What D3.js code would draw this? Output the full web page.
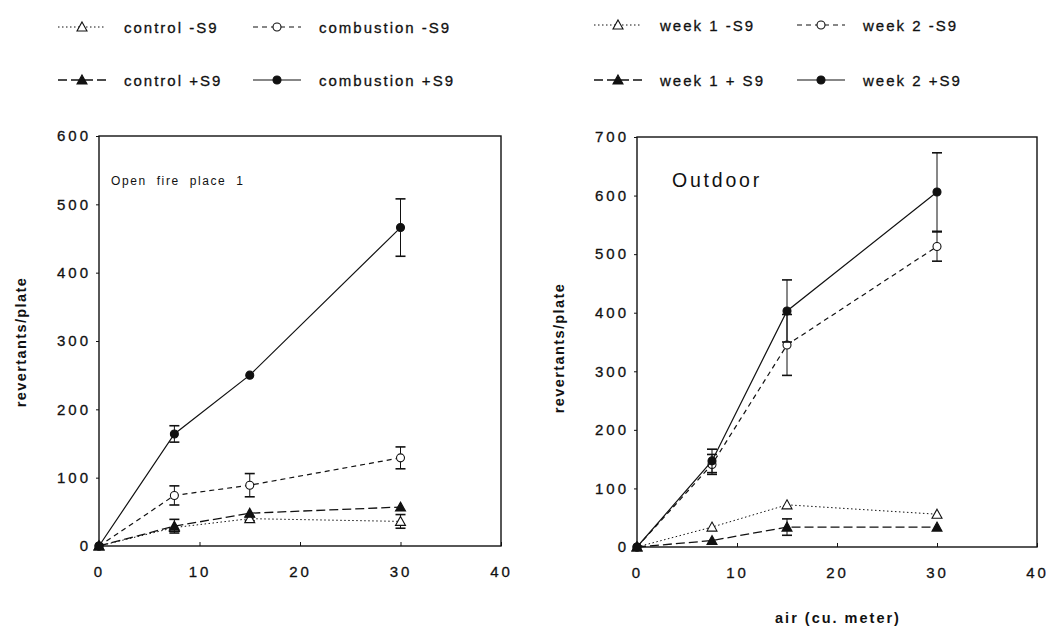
<!DOCTYPE html>
<html>
<head>
<meta charset="utf-8">
<script src="https://cdn.jsdelivr.net/npm/d3@7"></script>
<style>
  body { margin: 0; background: #fff; }
  svg { font-family: "Liberation Sans", Arial, sans-serif; }
</style>
</head>
<body>
<div id="chart"></div>
<script>
// air volume (cu. meter)
var doses = [0, 7.5, 15, 30];
var xTicks = [0, 10, 20, 30, 40];

// left panel: open fire place 1
var leftNames = ["control -S9", "combustion -S9", "control +S9", "combustion +S9"];
var controlMinus = [0, 27, 40, 36];
var controlMinusErr = [0, 0, 3, 10];
var combustionMinus = [0, 74, 89, 129];
var combustionMinusErr = [0, 14, 17, 16];
var controlPlus = [0, 29, 48, 57];
var controlPlusErr = [0, 10, 0, 0];
var combustionPlus = [0, 164, 250, 466];
var combustionPlusErr = [0, 12, 0, 42];
var leftYTicks = [0, 100, 200, 300, 400, 500, 600];

// right panel: outdoor
var rightNames = ["week 1 -S9", "week 2 -S9", "week 1 + S9", "week 2 +S9"];
var week1Minus = [0, 34, 72, 56];
var week1MinusErr = [0, 0, 0, 0];
var week2Minus = [0, 141, 345, 513];
var week2MinusErr = [0, 17, 52, 25];
var week1Plus = [0, 11, 34, 34];
var week1PlusErr = [0, 0, 14, 0];
var week2Plus = [0, 147, 403, 606];
var week2PlusErr = [0, 20, 53, 67];
var rightYTicks = [0, 100, 200, 300, 400, 500, 600, 700];

var styles = [
  {dash: "1.5,2.5", width: 1, marker: "triangle", fill: "#fff"},
  {dash: "5,4", width: 1.2, marker: "circle", fill: "#fff"},
  {dash: "9,4", width: 1.3, marker: "triangle", fill: "#111"},
  {dash: null, width: 1.2, marker: "circle", fill: "#111"}
];

var svg = d3.select("#chart").append("svg")
    .attr("width", 1049).attr("height", 629);

// scanned lettering is wide and heavy
function ink(t, size, ls) {
  return t.attr("font-size", size).attr("letter-spacing", ls)
    .attr("fill", "#111").attr("stroke", "#111").attr("stroke-width", 0.3);
}

function legend(names, x0, x1, y0, y1, lineLen) {
  var pos = [[x0, y0], [x1, y0], [x0, y1], [x1, y1]];
  names.forEach(function(n, i) {
    var g = svg.append("g").attr("transform", "translate(" + pos[i][0] + "," + pos[i][1] + ")");
    var s = styles[i];
    g.append("line").attr("x1", 0).attr("x2", lineLen).attr("y1", 0).attr("y2", 0)
      .attr("stroke", "#111").attr("stroke-width", s.width)
      .attr("stroke-dasharray", s.dash);
    drawMarker(g, lineLen / 2, 0, s);
    ink(g.append("text").attr("x", lineLen + 18).attr("y", 6), 15, 2).text(n);
  });
}

function drawMarker(g, x, y, s) {
  if (s.marker == "circle") {
    g.append("circle").attr("cx", x).attr("cy", y).attr("r", 4)
      .attr("fill", s.fill).attr("stroke", "#111").attr("stroke-width", 1.1);
  } else {
    g.append("path").attr("transform", "translate(" + x + "," + y + ")")
      .attr("d", "M0,-5L5,4L-5,4Z")
      .attr("fill", s.fill).attr("stroke", "#111").attr("stroke-width", 1.1);
  }
}

function panel(opt) {
  var x = d3.scaleLinear().domain([0, 40]).range([opt.left, opt.right]);
  var y = d3.scaleLinear().domain([0, opt.ymax]).range([opt.bottom, opt.top]);
  var g = svg.append("g");

  g.append("rect").attr("x", opt.left).attr("y", opt.top)
    .attr("width", opt.right - opt.left).attr("height", opt.bottom - opt.top)
    .attr("fill", "none").attr("stroke", "#111").attr("stroke-width", 1.4);

  var yAxis = g.append("g").attr("transform", "translate(" + opt.left + ",0)")
    .call(d3.axisLeft(y).tickValues(opt.yTicks).tickSize(3).tickPadding(5));
  var xAxis = g.append("g").attr("transform", "translate(0," + opt.bottom + ")")
    .call(d3.axisBottom(x).tickValues(xTicks).tickSize(-4).tickPadding(20));
  [yAxis, xAxis].forEach(function(a) {
    a.select(".domain").remove();
    ink(a.selectAll("text"), 15, 3)
      .attr("font-family", "Liberation Sans, Arial, sans-serif");
    a.selectAll("line").attr("stroke", "#111");
  });

  var line = d3.line().x(function(d, i) { return x(doses[i]); }).y(function(d) { return y(d); });

  opt.series.forEach(function(ser, k) {
    var s = styles[k];
    g.append("path").datum(ser.v).attr("d", line)
      .attr("fill", "none").attr("stroke", "#111").attr("stroke-width", s.width)
      .attr("stroke-dasharray", s.dash);
    ser.v.forEach(function(v, i) {
      var e = ser.e[i];
      if (e > 0) {
        var xe = x(doses[i]);
        g.append("line").attr("x1", xe).attr("x2", xe).attr("y1", y(v - e)).attr("y2", y(v + e))
          .attr("stroke", "#111").attr("stroke-width", 1);
        [v - e, v + e].forEach(function(c) {
          g.append("line").attr("x1", xe - 5).attr("x2", xe + 5).attr("y1", y(c)).attr("y2", y(c))
            .attr("stroke", "#111").attr("stroke-width", 1.6);
        });
      }
    });
    ser.v.forEach(function(v, i) { drawMarker(g, x(doses[i]), y(v), s); });
  });

  svg.append("text")
    .attr("transform", "translate(" + opt.ylabX + "," + opt.ylabY + ") rotate(-90)")
    .attr("text-anchor", "middle").attr("font-size", 14.5).attr("font-weight", "bold")
    .attr("letter-spacing", 1.4).attr("fill", "#111").text("revertants/plate");

  svg.append("text").attr("x", opt.titleX).attr("y", opt.titleY)
    .attr("font-size", opt.titleSize).attr("letter-spacing", opt.titleLs)
    .attr("word-spacing", opt.titleWs).attr("fill", "#111").text(opt.title);
}

legend(leftNames, 58, 253, 27, 80, 48);
legend(rightNames, 594, 797, 25, 80, 48);

panel({
  left: 99, right: 501, top: 136, bottom: 546, ymax: 600, yTicks: leftYTicks,
  ylabX: 26, ylabY: 342,
  title: "Open fire place 1", titleX: 111, titleY: 185, titleSize: 12, titleLs: 1.6, titleWs: 5,
  series: [
    {v: controlMinus, e: controlMinusErr},
    {v: combustionMinus, e: combustionMinusErr},
    {v: controlPlus, e: controlPlusErr},
    {v: combustionPlus, e: combustionPlusErr}
  ]
});

panel({
  left: 637, right: 1037, top: 137, bottom: 547, ymax: 700, yTicks: rightYTicks,
  ylabX: 564, ylabY: 348,
  title: "Outdoor", titleX: 672, titleY: 187, titleSize: 19.5, titleLs: 2.8, titleWs: 0,
  series: [
    {v: week1Minus, e: week1MinusErr},
    {v: week2Minus, e: week2MinusErr},
    {v: week1Plus, e: week1PlusErr},
    {v: week2Plus, e: week2PlusErr}
  ]
});

svg.append("text").attr("x", 838).attr("y", 623).attr("text-anchor", "middle")
  .attr("font-size", 14.5).attr("font-weight", "bold").attr("letter-spacing", 2)
  .attr("fill", "#111").text("air (cu. meter)");
</script>
</body>
</html>
